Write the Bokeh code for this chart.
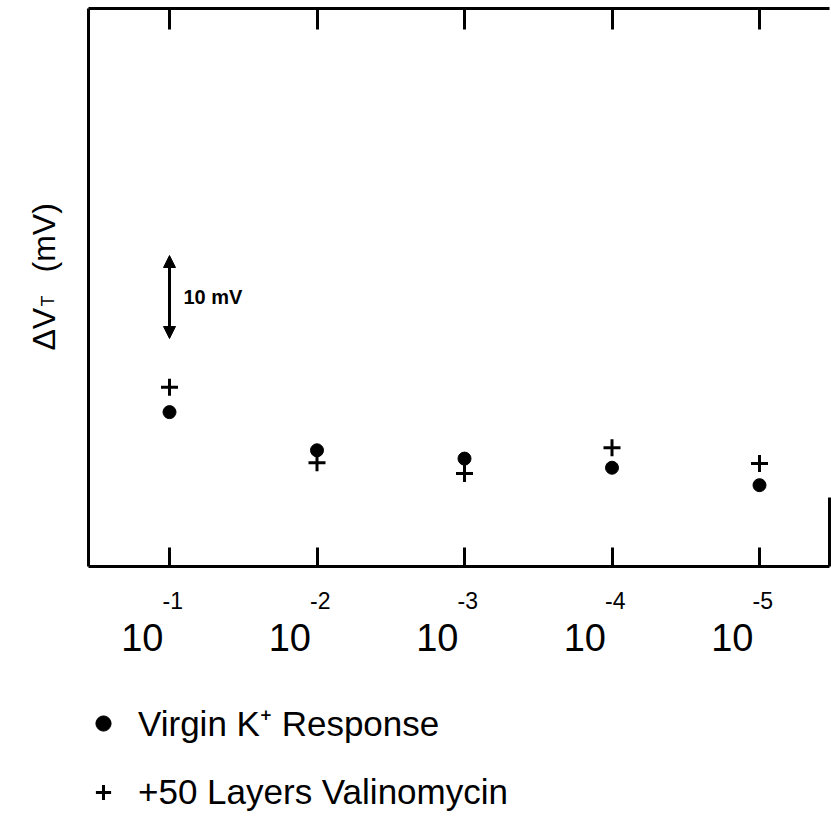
from math import pi, log10
from bokeh.plotting import figure
from bokeh.models import (LinearAxis, FixedTicker, Label, Arrow, NormalHead,
                          Legend, LegendItem, Range1d)
from bokeh.embed import file_html
from bokeh.resources import INLINE
from bokeh.core.properties import value

# ---------------- data ----------------
concentrations = [1e-1, 1e-2, 1e-3, 1e-4, 1e-5]          # K+ activity
tick_base = "10"
tick_exponents = ["-1", "-2", "-3", "-4", "-5"]
virgin_dV = [18.6, 14.0, 13.0, 11.9, 9.8]                  # mV (relative)
valino_dV = [21.6, 12.5, 11.2, 14.3, 12.4]                 # mV (relative)
series_names = ["Virgin K\u207a Response", "+50 Layers Valinomycin"]
y_label_main, y_label_sub, y_label_unit = "\u0394V", "T", "(mV)"
scale_bar_mV = 10
scale_bar_text = "10 mV"

x_pos = [-log10(c) for c in concentrations]

# ---------------- layout ----------------
W, H = 831, 818
PX_PER_DEC = 147.5          # pixels per decade of concentration
PX_PER_MV = 8.3             # pixels per mV
TICK1_PX = 169              # page x of first decade
BASE_PX = 566               # page y of the 0 mV line (frame bottom)
X0 = x_pos[0] - TICK1_PX / PX_PER_DEC
X1 = X0 + W / PX_PER_DEC
Y1 = BASE_PX / PX_PER_MV
Y0 = Y1 - H / PX_PER_MV
SANS = "Liberation Sans"

def px2x(px):
    return X0 + px / PX_PER_DEC

def py2y(py):
    return Y1 - py / PX_PER_MV

BOX_L, BOX_R = px2x(88), px2x(829)
BOX_B, BOX_T = py2y(566), py2y(8)

p = figure(width=W, height=H, output_backend="svg", toolbar_location=None,
           x_range=Range1d(X0, X1), y_range=Range1d(Y0, Y1),
           min_border=0, x_axis_location=None, y_axis_location=None)
p.outline_line_color = None
p.grid.visible = False
p.background_fill_color = "white"
p.border_fill_color = "white"

def make_axis(ticks, tick_in, fixed, bounds):
    ax = LinearAxis(ticker=FixedTicker(ticks=ticks), fixed_location=fixed, bounds=bounds)
    ax.axis_line_width = 3
    ax.axis_line_color = "black"
    ax.major_tick_in = tick_in
    ax.major_tick_out = 0
    ax.major_tick_line_width = 3
    ax.major_tick_line_color = "black"
    ax.minor_tick_in = 0
    ax.minor_tick_out = 0
    ax.major_label_overrides = {t: "" for t in ticks}
    ax.major_label_standoff = 0
    return ax

p.add_layout(make_axis(x_pos, 19, BOX_B, (BOX_L, BOX_R)), "below")
p.add_layout(make_axis(x_pos, 21, BOX_T, (BOX_L, BOX_R)), "above")
p.add_layout(make_axis([], 0, BOX_L, (BOX_B, BOX_T)), "left")
p.add_layout(make_axis([], 0, BOX_R, (BOX_B, py2y(497))), "right")

# data markers
r_virgin = p.scatter(x_pos, virgin_dV, marker="circle", size=13,
                     fill_color="black", line_color="black")
r_valino = p.scatter(x_pos, valino_dV, marker="cross", size=17,
                     line_color="black", line_width=3)

# scale bar
bar_x = x_pos[0]
bar_lo = py2y(338)
p.add_layout(Arrow(x_start=bar_x, y_start=bar_lo, x_end=bar_x, y_end=bar_lo + scale_bar_mV,
                   line_width=3, line_color="black",
                   start=NormalHead(size=12, fill_color="black", line_color="black", line_width=1),
                   end=NormalHead(size=12, fill_color="black", line_color="black", line_width=1)))
p.add_layout(Label(x=bar_x, y=bar_lo + scale_bar_mV / 2, x_offset=14, text=scale_bar_text,
                   text_font=SANS, text_font_style="bold", text_font_size="20px",
                   text_color="black", text_baseline="middle", text_align="left"))

# tick labels 10^-n
n = len(x_pos)
p.text(x=x_pos, y=[py2y(637)] * n, text=[tick_base] * n, x_offset=-6,
       text_font=value(SANS), text_font_size="38px", text_color="black",
       text_align="right", text_baseline="alphabetic")
p.text(x=x_pos, y=[py2y(600)] * n, text=tick_exponents, x_offset=-7,
       text_font=value(SANS), text_font_size="23px", text_color="black",
       text_align="left", text_baseline="alphabetic")

# y axis label (rotated)
p.add_layout(Label(x=px2x(43), y=py2y(350), text=y_label_main, angle=pi / 2,
                   text_font=SANS, text_font_size="32px", text_color="black",
                   text_align="left", text_baseline="alphabetic"))
p.add_layout(Label(x=px2x(47), y=py2y(306), text=y_label_sub, angle=pi / 2,
                   text_font=SANS, text_font_size="18px", text_color="black",
                   text_align="left", text_baseline="alphabetic"))
p.add_layout(Label(x=px2x(43), y=py2y(272), text=y_label_unit, angle=pi / 2,
                   text_font=SANS, text_font_size="32px", text_color="black",
                   text_align="left", text_baseline="alphabetic"))

# legend
legend = Legend(items=[LegendItem(label=series_names[0], renderers=[r_virgin]),
                       LegendItem(label=series_names[1], renderers=[r_valino])],
                location=(84, 6), orientation="vertical",
                glyph_width=38, glyph_height=38, label_standoff=16, spacing=26,
                padding=0, margin=0, border_line_color=None,
                background_fill_alpha=0,
                label_text_font=SANS, label_text_font_size="35px",
                label_text_color="black")
p.add_layout(legend, "center")

open("out.html", "w").write(file_html(p, INLINE))
